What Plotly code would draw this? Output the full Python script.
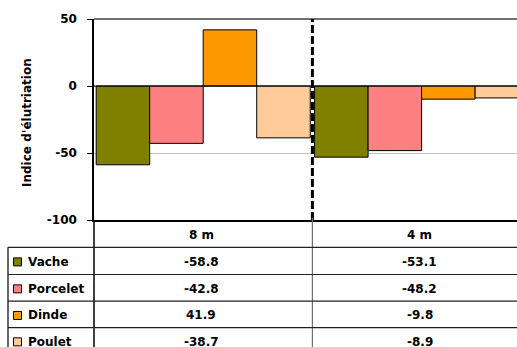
import plotly.graph_objects as go

# Data
categories = ["8 m", "4 m"]
series_names = ["Vache", "Porcelet", "Dinde", "Poulet"]
vache = [-58.8, -53.1]
porcelet = [-42.8, -48.2]
dinde = [41.9, -9.8]
poulet = [-38.7, -8.9]
series_values = [vache, porcelet, dinde, poulet]
colors = ["#808000", "#FF8080", "#FF9900", "#FFCC99"]
y_ticks = [50, 0, -50, -100]
y_tick_labels = ["50", "0", "-50", "-100"]

W, H = 517, 347
L, T = 94, 19          # plot area left / top in px
B_PX = 220             # plot area bottom in px
PW, PH = W - L, B_PX - T
x_range = [-0.5, -0.5 + PW / 218.4]

FONT = "DejaVu Sans"
BOLD = dict(family=FONT, size=12, color="black", weight="bold")


def px_x(p):
    return (p - L) / PW


def px_y(p):
    return (B_PX - p) / PH


fig = go.Figure()
for name, vals, col in zip(series_names, series_values, colors):
    fig.add_trace(go.Bar(
        x=categories, y=vals, name=name,
        marker=dict(color=col, line=dict(color="black", width=1)),
        showlegend=False,
    ))

shapes = []
annotations = []

# top border of plot area
shapes.append(dict(type="line", xref="paper", yref="paper", x0=0, x1=1, y0=1, y1=1,
                   line=dict(color="#404040", width=1.5)))
# zero line
shapes.append(dict(type="line", xref="paper", yref="y", x0=0, x1=1, y0=0, y1=0,
                   line=dict(color="black", width=1.2), layer="above"))
# dashed separator between the two groups
sep_x = (0.5 - x_range[0]) / (x_range[1] - x_range[0])
shapes.append(dict(type="line", xref="paper", yref="paper", x0=sep_x, x1=sep_x,
                   y0=0, y1=1, line=dict(color="black", width=3, dash="8px,3px"),
                   layer="above"))

# data table below the chart
row_edges = [220, 247.3, 274.5, 301.2, 327.7, 354]
# vertical lines
shapes.append(dict(type="line", xref="paper", yref="paper", x0=0, x1=0,
                   y0=px_y(220), y1=px_y(360), line=dict(color="black", width=1.5)))
shapes.append(dict(type="line", xref="paper", yref="paper", x0=sep_x, x1=sep_x,
                   y0=px_y(218), y1=px_y(360), line=dict(color="#707070", width=1.2)))
shapes.append(dict(type="line", xref="paper", yref="paper", x0=px_x(8), x1=px_x(8),
                   y0=px_y(row_edges[1]), y1=px_y(360), line=dict(color="black", width=1.2)))
# horizontal lines
for ye in row_edges[1:-1]:
    shapes.append(dict(type="line", xref="paper", yref="paper", x0=px_x(8), x1=1.01,
                       y0=px_y(ye), y1=px_y(ye), line=dict(color="#202020", width=1.2)))

# header labels
for i, c in enumerate(categories):
    annotations.append(dict(xref="x", yref="paper", x=i,
                            y=px_y((row_edges[0] + row_edges[1]) / 2 + 1.5),
                            yanchor="middle", xanchor="center",
                            text=c, showarrow=False, xshift=-2, font=BOLD))

# series rows
for r, (name, vals, col) in enumerate(zip(series_names, series_values, colors)):
    yc = (row_edges[r + 1] + row_edges[r + 2]) / 2 + 1
    shapes.append(dict(type="rect", xref="paper", yref="paper",
                       x0=px_x(13.5), x1=px_x(21.5), y0=px_y(yc - 4), y1=px_y(yc + 4),
                       fillcolor=col, line=dict(color="black", width=1)))
    annotations.append(dict(xref="paper", yref="paper", x=px_x(26), y=px_y(yc),
                            text=name, showarrow=False, xanchor="left", yanchor="middle",
                            font=BOLD))
    for i, v in enumerate(vals):
        annotations.append(dict(xref="x", yref="paper", x=i, y=px_y(yc),
                                text=f"{v:.1f}", showarrow=False, xshift=-2,
                                xanchor="center", yanchor="middle", font=BOLD))

# y-axis title
annotations.append(dict(xref="paper", yref="paper", x=px_x(27), y=px_y(123),
                        xanchor="center", yanchor="middle",
                        text="Indice d'élutriation", textangle=-90, showarrow=False,
                        font=BOLD))

fig.update_layout(
    width=W, height=H,
    margin=dict(l=L, r=0, t=T, b=H - B_PX, pad=0),
    paper_bgcolor="white", plot_bgcolor="white",
    barmode="group", bargap=0.02, bargroupgap=0,
    xaxis=dict(type="category", range=x_range, showticklabels=False, showgrid=False,
               zeroline=False, showline=True, linecolor="black", linewidth=1.5,
               ticks=""),
    yaxis=dict(range=[-100, 50], tickvals=y_ticks, ticktext=y_tick_labels,
               ticks="outside", ticklen=5, ticklabelstandoff=8,
               tickcolor="black", tickwidth=1.2, showline=True, linecolor="black",
               linewidth=1.5, showgrid=True, gridcolor="#c0c0c0", gridwidth=1,
               zeroline=False, tickfont=BOLD),
    shapes=shapes,
    annotations=annotations,
    font=dict(family=FONT),
)

fig.write_html("out.html")
